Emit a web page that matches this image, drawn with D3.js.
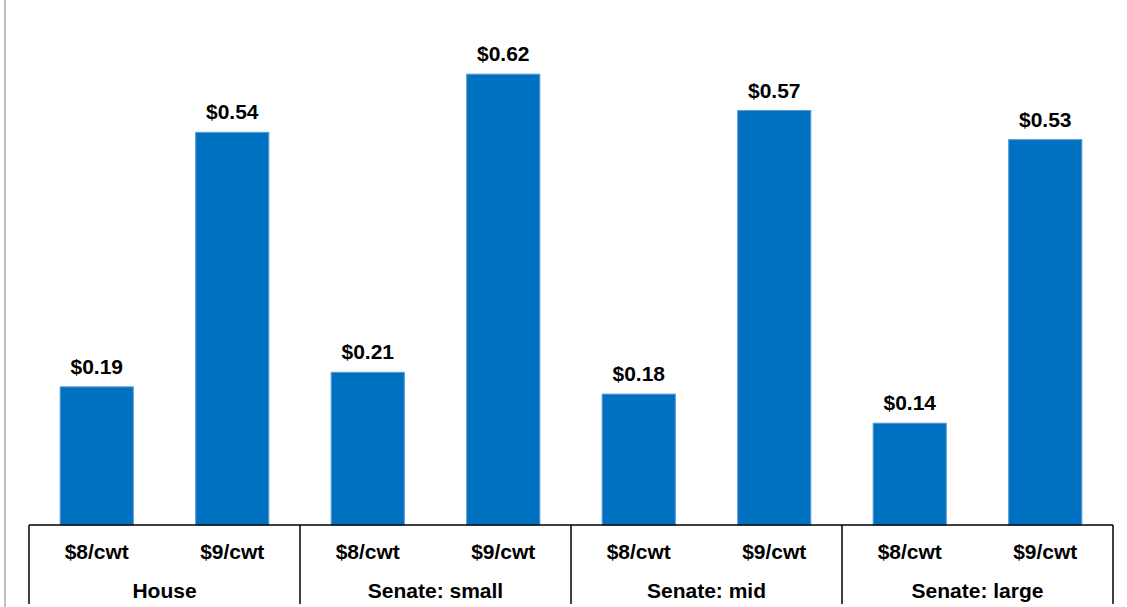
<!DOCTYPE html>
<html>
<head>
<meta charset="utf-8">
<script src="https://cdn.jsdelivr.net/npm/d3@7"></script>
<style>
  html, body { margin: 0; padding: 0; background: #fff; }
  svg { display: block; font-family: "Liberation Sans", Arial, sans-serif; }
</style>
</head>
<body>
<svg id="chart" width="1127" height="607"></svg>
<script>
const groups = ["House", "Senate: small", "Senate: mid", "Senate: large"];
const prices = ["$8/cwt", "$9/cwt"];
const values8 = [0.19, 0.21, 0.18, 0.14];
const values9 = [0.54, 0.62, 0.57, 0.53];

const data = [];
groups.forEach((g, i) => {
  data.push({ group: g, price: prices[0], value: values8[i], key: g + "|" + prices[0] });
  data.push({ group: g, price: prices[1], value: values9[i], key: g + "|" + prices[1] });
});

const svg = d3.select("#chart");
const left = 29, right = 1113, baseY = 525, topY = 16;
const fs = 21;

const x = d3.scaleBand()
  .domain(data.map(d => d.key))
  .range([left, right])
  .paddingInner(0.46)
  .paddingOuter(0.23);

const xg = d3.scaleBand().domain(groups).range([left, right]).padding(0);

const y = d3.scaleLinear().domain([0, 0.7]).range([baseY, topY]);

// left grey border line
svg.append("line")
  .attr("x1", 5).attr("x2", 5).attr("y1", 0).attr("y2", 607)
  .attr("stroke", "#bfbfbf").attr("stroke-width", 2);

// bars
svg.selectAll("rect.bar").data(data).enter().append("rect")
  .attr("class", "bar")
  .attr("x", d => x(d.key))
  .attr("width", x.bandwidth())
  .attr("y", d => y(d.value))
  .attr("height", d => baseY - y(d.value))
  .attr("fill", "#0070C0")
  .attr("stroke", "#5B9BD5")
  .attr("stroke-width", 1);

// value labels
svg.selectAll("text.val").data(data).enter().append("text")
  .attr("class", "val")
  .attr("x", d => x(d.key) + x.bandwidth() / 2)
  .attr("y", d => y(d.value) - 13)
  .attr("text-anchor", "middle")
  .attr("font-size", fs)
  .attr("font-weight", "bold")
  .attr("fill", "#000")
  .text(d => "$" + d.value.toFixed(2));

// axis line
svg.append("line")
  .attr("x1", left).attr("x2", right).attr("y1", baseY).attr("y2", baseY)
  .attr("stroke", "#000").attr("stroke-width", 1.5);

// group separators
const seps = groups.map(g => xg(g)).concat([right]);
svg.selectAll("line.sep").data(seps).enter().append("line")
  .attr("class", "sep")
  .attr("x1", d => d).attr("x2", d => d)
  .attr("y1", baseY).attr("y2", 604)
  .attr("stroke", "#000").attr("stroke-width", 1.5);

// category labels
svg.selectAll("text.cat").data(data).enter().append("text")
  .attr("class", "cat")
  .attr("x", d => x(d.key) + x.bandwidth() / 2)
  .attr("y", 559)
  .attr("text-anchor", "middle")
  .attr("font-size", fs)
  .attr("font-weight", "bold")
  .attr("fill", "#000")
  .text(d => d.price);

// group labels
svg.selectAll("text.grp").data(groups).enter().append("text")
  .attr("class", "grp")
  .attr("x", d => xg(d) + xg.bandwidth() / 2)
  .attr("y", 598)
  .attr("text-anchor", "middle")
  .attr("font-size", fs)
  .attr("font-weight", "bold")
  .attr("fill", "#000")
  .text(d => d);
</script>
</body>
</html>
